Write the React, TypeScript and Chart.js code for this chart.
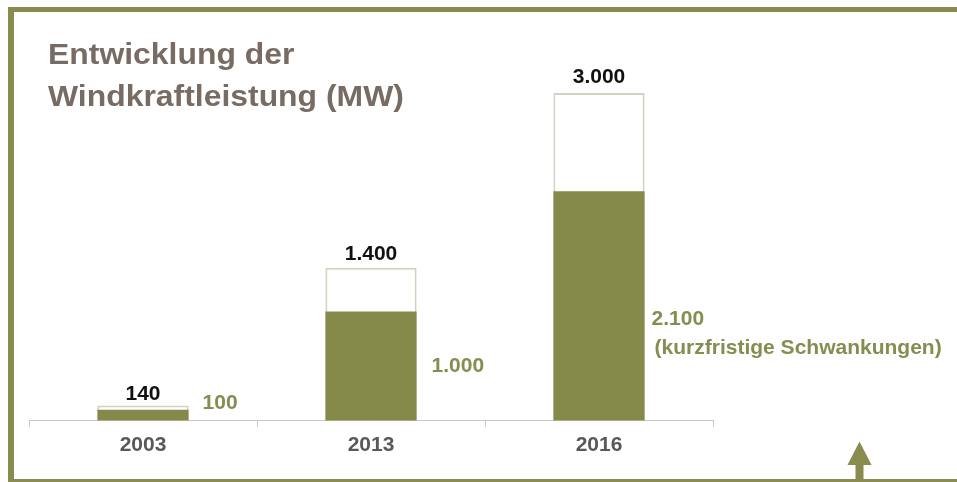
import React, { useEffect, useRef } from "react";
import { Chart, registerables } from "chart.js";

Chart.register(...registerables);

const categories = ["2003", "2013", "2016"];
const currentCapacity = [100, 1000, 2100];
const plannedCapacity = [140, 1400, 3000];
const noteText = "(kurzfristige Schwankungen)";
const titleLines = ["Entwicklung der", "Windkraftleistung (MW)"];

const FONT = "'Liberation Sans', Arial, Helvetica, sans-serif";
const OLIVE = "#8A8B4E";
const BAR_GREEN = "#858A4B";
const TEXT_GREEN = "#878C50";

const fmt = (v: number) => String(v).replace(/\B(?=(\d{3})+(?!\d))/g, ".");

const decor = {
  id: "decor",
  beforeDraw(chart: any) {
    const ctx = chart.ctx as CanvasRenderingContext2D;
    const W = chart.width;
    const H = chart.height;
    ctx.save();
    ctx.fillStyle = "#ffffff";
    ctx.fillRect(0, 0, W, H);
    ctx.fillStyle = OLIVE;
    ctx.fillRect(8, 7, W - 8, 5);
    ctx.fillRect(8, 7, 6, H - 7);
    ctx.fillRect(8, 479, W - 8, 3);
    // arrow
    ctx.beginPath();
    ctx.moveTo(859.5, 441.5);
    ctx.lineTo(871.5, 465);
    ctx.lineTo(847.5, 465);
    ctx.closePath();
    ctx.fill();
    ctx.fillRect(855.5, 464, 8, 16);
    // title (slightly wide lettering as in the original)
    ctx.fillStyle = "#776B63";
    ctx.font = `bold 29px ${FONT}`;
    ctx.textAlign = "left";
    ctx.textBaseline = "alphabetic";
    ctx.translate(48, 0);
    ctx.scale(1.1, 1);
    ctx.fillText(titleLines[0], 0, 63.5);
    ctx.fillText(titleLines[1], 0, 106);
    ctx.restore();
  },
  afterDatasetsDraw(chart: any) {
    const ctx = chart.ctx as CanvasRenderingContext2D;
    const cur = chart.getDatasetMeta(0).data;
    const tot = chart.getDatasetMeta(1).data;
    const base = chart.scales.y.getPixelForValue(0);
    const totalGap = [6, 8, 10];
    const sideDx = [14, 15, 7];
    const sideDy = [-12, -49, -96];
    ctx.save();
    ctx.font = `bold 21px ${FONT}`;
    ctx.textBaseline = "alphabetic";
    for (let i = 0; i < categories.length; i++) {
      const t = tot[i];
      ctx.fillStyle = "#111111";
      ctx.textAlign = "center";
      ctx.fillText(fmt(plannedCapacity[i]), t.x, t.y - totalGap[i]);
      const c = cur[i];
      const right = c.x + c.width / 2;
      ctx.fillStyle = TEXT_GREEN;
      ctx.textAlign = "left";
      ctx.fillText(fmt(currentCapacity[i]), right + sideDx[i], base + sideDy[i]);
      if (i === categories.length - 1) {
        ctx.fillText(noteText, right + 10, base + sideDy[i] + 29);
      }
    }
    ctx.restore();
  },
};

export default function App() {
  const ref = useRef<HTMLCanvasElement | null>(null);
  useEffect(() => {
    if (!ref.current) return;
    const chart = new Chart(ref.current, {
      type: "bar",
      data: {
        labels: categories,
        datasets: [
          {
            label: "Leistung",
            data: currentCapacity,
            backgroundColor: BAR_GREEN,
            borderWidth: 0,
            grouped: false,
            barPercentage: 0.4,
            categoryPercentage: 1,
          } as any,
          {
            label: "Ziel",
            data: plannedCapacity,
            backgroundColor: "#ffffff",
            borderColor: "#D2D1C2",
            borderWidth: 2,
            grouped: false,
            barPercentage: 0.4,
            categoryPercentage: 1,
          } as any,
        ],
      },
      options: {
        animation: false,
        responsive: false,
        devicePixelRatio: 1,
        layout: { padding: { left: 29, right: 244, top: 93, bottom: 18 } },
        plugins: { legend: { display: false }, tooltip: { enabled: false }, title: { display: false } },
        scales: {
          x: {
            grid: {
              display: true,
              drawOnChartArea: false,
              drawTicks: true,
              tickLength: 6,
              color: "#C8C8C8",
              offset: true,
            },
            border: { display: true, color: "#C8C8C8", width: 1 },
            ticks: {
              color: "#595959",
              font: { family: FONT, size: 21, weight: "bold" },
              padding: 6,
            },
          },
          y: { display: false, min: 0, max: 3000 },
        },
      },
      plugins: [decor],
    });
    return () => chart.destroy();
  }, []);
  return (
    <canvas
      ref={ref}
      width={957}
      height={482}
      style={{ position: "absolute", left: 0, top: 0, display: "block" }}
    />
  );
}
